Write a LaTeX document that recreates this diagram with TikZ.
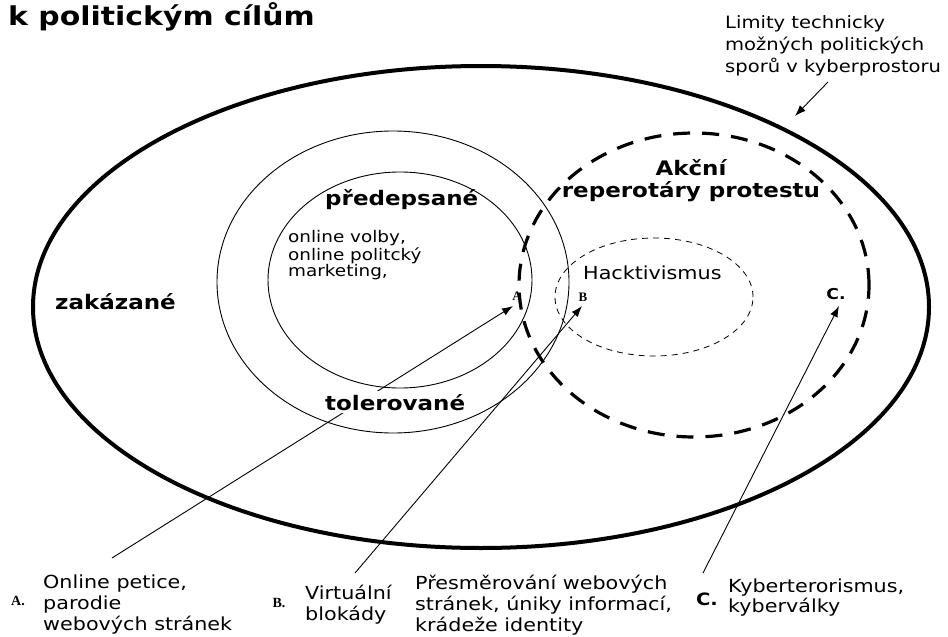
\documentclass[tikz,border=0pt]{standalone}
\usepackage{fontspec}
\setmainfont[FakeStretch=1.15]{DejaVu Sans}
\newfontfamily\letterfont{Liberation Serif}
\usetikzlibrary{arrows.meta}

\begin{document}
\begin{tikzpicture}[x=1pt, y=-1pt,
    boundary/.style={line width=4pt},
    zone/.style={line width=0.9pt},
    repertoire/.style={line width=3.2pt, dash pattern=on 17pt off 12pt},
    hackzone/.style={line width=0.8pt, dash pattern=on 6pt off 5pt},
    arrow/.style={-{Latex[length=11pt,width=8pt]}, line width=0.9pt},
    zonelabel/.style={font=\bfseries\fontsize{20}{22}\selectfont, anchor=base west, inner sep=0pt},
    note/.style={font=\fontsize{18}{21}\selectfont, align=left, anchor=base west, inner sep=0pt},
    tipletter/.style={font=\letterfont\bfseries\fontsize{14}{16}\selectfont, inner sep=0pt}
]
\useasboundingbox (0,0) rectangle (948,637);

% Title
\node[anchor=base west, inner sep=0pt, font=\bfseries\fontsize{26}{30}\selectfont] (title) at (8,25) {k politickým cílům};

% Regions
\draw[boundary] (481,307) ellipse [x radius=448pt, y radius=241pt];
\draw[zone] (393,282) ellipse [x radius=176pt, y radius=151pt];
\draw[zone] (400,280) ellipse [x radius=132pt, y radius=108pt];
\draw[repertoire] (694,285) ellipse [x radius=175pt, y radius=152pt];
\draw[hackzone] (654,297) ellipse [x radius=99pt, y radius=59pt];

% Limits of the space (base = last line)
\node[note, font=\fontsize{17}{22}\selectfont] (limits) at (725,72) {Limity technicky\\možných politických\\sporů v kyberprostoru};
\coordinate (limitTail) at (828,82);
\coordinate (limitTip) at (795,116);
\draw[arrow] (limitTail) -- (limitTip);

% Points A, B, C
\node[tipletter, font=\letterfont\bfseries\fontsize{13}{15}\selectfont] (ptA) at (517,296) {A};
\node[tipletter, font=\letterfont\bfseries\fontsize{13}{15}\selectfont] (ptB) at (583,297) {B};
\node[inner sep=0pt, font=\bfseries\fontsize{15}{17}\selectfont] (ptC) at (836,294) {C.};
\coordinate (tipA) at (513,306);
\coordinate (tipB) at (582,306);
\coordinate (tipC) at (839,306);

% Bottom legend
\node[tipletter] (keyA) at (18,601) {A.};
\node[note] (textA) at (43,630) {Online petice,\\parodie\\webových stránek};
\node[tipletter] (keyB) at (279,603) {B.};
\node[note] (textB) at (305,620) {Virtuální\\blokády};
\node[note] (textBB) at (415,631) {Přesměrování webových\\stránek, úniky informací,\\krádeže identity};
\node[inner sep=0pt, font=\bfseries\fontsize{17}{19}\selectfont] (keyC) at (707,599) {C.};
\node[note, font=\fontsize{18}{20}\selectfont] (textC) at (728,612) {Kyberterorismus,\\kyberválky};

% Arrows from the legend
\coordinate (tailA) at (112,558);
\coordinate (tailB) at (355,573);
\coordinate (tailC) at (703,573);
\draw[arrow] (tailA) -- (tipA);
\draw[arrow] (tailB) -- (tipB);
\draw[arrow] (tailC) -- (tipC);

% Zone labels
\node[zonelabel] (forbidden) at (55,309) {zakázané};
\node[zonelabel] (prescribed) at (325,205) {předepsané};
\node[zonelabel, fill=white, inner ysep=3pt] (tolerated) at (325,410) {tolerované};
\node[zonelabel, anchor=base, align=center] (actions) at (691,197) {Akční\\reperotáry protestu};
\node[note, font=\fontsize{16}{16}\selectfont] (examples) at (288,276) {online volby,\\online politcký\\marketing,};
\node[note] (hack) at (583,279) {Hacktivismus};

\end{tikzpicture}
\end{document}
